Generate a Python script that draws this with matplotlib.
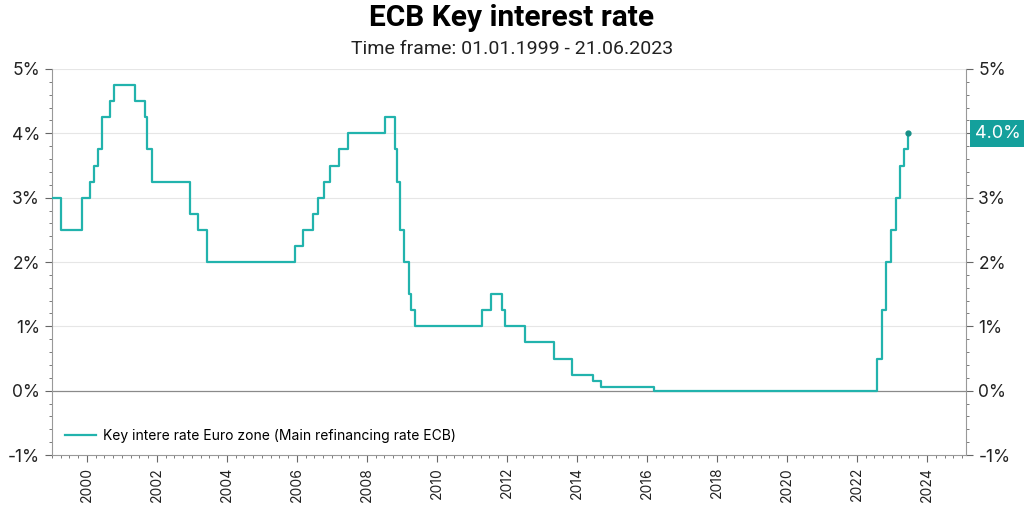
import matplotlib
matplotlib.use('Agg')
import pandas as pd
import numpy as np
import matplotlib.pyplot as plt
import matplotlib.dates as mdates
from matplotlib.ticker import MultipleLocator, FuncFormatter

plt.rcParams['font.family'] = ['Inter', 'DejaVu Sans']

# ECB main refinancing rate, change dates and new rate (%)
change_dates = ['1999-01-01', '1999-04-09', '1999-11-05', '2000-02-04', '2000-03-17',
                '2000-04-28', '2000-06-09', '2000-09-01', '2000-10-06', '2001-05-11',
                '2001-08-31', '2001-09-18', '2001-11-09', '2002-12-06', '2003-03-07',
                '2003-06-06', '2005-12-06', '2006-03-08', '2006-06-15', '2006-08-09',
                '2006-10-11', '2006-12-13', '2007-03-14', '2007-06-13', '2008-07-09',
                '2008-10-15', '2008-11-12', '2008-12-10', '2009-01-21', '2009-03-11',
                '2009-04-08', '2009-05-13', '2011-04-13', '2011-07-13', '2011-11-09',
                '2011-12-14', '2012-07-11', '2013-05-08', '2013-11-13', '2014-06-11',
                '2014-09-10', '2016-03-16', '2022-07-27', '2022-09-14', '2022-11-02',
                '2022-12-21', '2023-02-08', '2023-03-22', '2023-05-10', '2023-06-21']
rates = [3.00, 2.50, 3.00, 3.25, 3.50, 3.75, 4.25, 4.50, 4.75, 4.50,
         4.25, 3.75, 3.25, 2.75, 2.50, 2.00, 2.25, 2.50, 2.75, 3.00,
         3.25, 3.50, 3.75, 4.00, 4.25, 3.75, 3.25, 2.50, 2.00, 1.50,
         1.25, 1.00, 1.25, 1.50, 1.25, 1.00, 0.75, 0.50, 0.25, 0.15,
         0.05, 0.00, 0.50, 1.25, 2.00, 2.50, 3.00, 3.50, 3.75, 4.00]
end_date = '2023-06-21'
legend_label = 'Key intere rate Euro zone (Main refinancing rate ECB)'

df = pd.DataFrame({'date': pd.to_datetime(change_dates), 'rate': rates})
x = list(df['date']) + [pd.Timestamp(end_date)]
y = list(df['rate']) + [rates[-1]]

teal = '#22b3ad'
dark_teal = '#14a09c'

fig = plt.figure(figsize=(10.24, 5.13), dpi=100)
ax = fig.add_axes([0.0508, 0.113, 0.893, 0.7525])

ax.step(x, y, where='post', color=teal, lw=1.6, label=legend_label, zorder=3)
ax.plot([pd.Timestamp(end_date)], [rates[-1]], 'o', color='#178f87', ms=3.5, zorder=4)

ax.set_ylim(-1, 5)
ax.set_xlim(pd.Timestamp('1999-01-01'), pd.Timestamp('2025-02-15'))

ax.yaxis.set_major_locator(MultipleLocator(1))
ax.yaxis.set_minor_locator(MultipleLocator(0.2))
ax.yaxis.set_major_formatter(FuncFormatter(lambda v, p: f'{v:.0f}%'))
ax.xaxis.set_major_locator(mdates.YearLocator(2))
ax.xaxis.set_minor_locator(mdates.MonthLocator(bymonth=[1, 4, 7, 10]))
ax.xaxis.set_major_formatter(mdates.DateFormatter('%Y'))

for yy in range(0, 6):
    if yy == 0:
        ax.axhline(0, color='#8a8a8a', lw=0.9, zorder=2)
    else:
        ax.axhline(yy, color='#e6e6e6', lw=0.8, zorder=1)

for s in ['top']:
    ax.spines[s].set_visible(False)
for s in ['left', 'right', 'bottom']:
    ax.spines[s].set_color('#999999')
    ax.spines[s].set_linewidth(0.8)

ax.tick_params(axis='y', which='both', left=True, right=True, labelleft=True,
               labelright=True, colors='#666666', labelcolor='#222222', labelsize=12.5)
ax.tick_params(axis='y', which='major', length=5, width=0.8)
ax.tick_params(axis='y', which='minor', length=2.5, width=0.6)
ax.tick_params(axis='x', which='major', length=5, width=0.8, colors='#666666',
               labelcolor='#222222', labelsize=10, labelrotation=90)
ax.tick_params(axis='x', which='minor', length=2.5, width=0.6, colors='#666666')

# the right-hand 4% label sits under the last-value box
fig.canvas.draw()
for t in ax.yaxis.get_major_ticks():
    if abs(t.get_loc() - rates[-1]) < 1e-9:
        t.label2.set_visible(False)

ax.legend(loc='lower left', frameon=False, fontsize=10, handlelength=2.3,
          handletextpad=0.5, bbox_to_anchor=(0.0, 0.0))

ax.text(1.009, 4.0, f'{rates[-1]:.1f}%', transform=ax.get_yaxis_transform(),
        ha='left', va='center', color='white', fontsize=13,
        bbox=dict(boxstyle='square,pad=0.28', fc=dark_teal, ec='none'))

fig.text(0.5, 0.965, 'ECB Key interest rate', ha='center', va='center',
         fontsize=21.5, fontweight='bold', family=['Roboto', 'DejaVu Sans'])
fig.text(0.5, 0.905, 'Time frame: 01.01.1999 - 21.06.2023', ha='center', va='center',
         fontsize=14, family=['Roboto', 'DejaVu Sans'], color='#222222')

fig.savefig('out.png', dpi=100)
